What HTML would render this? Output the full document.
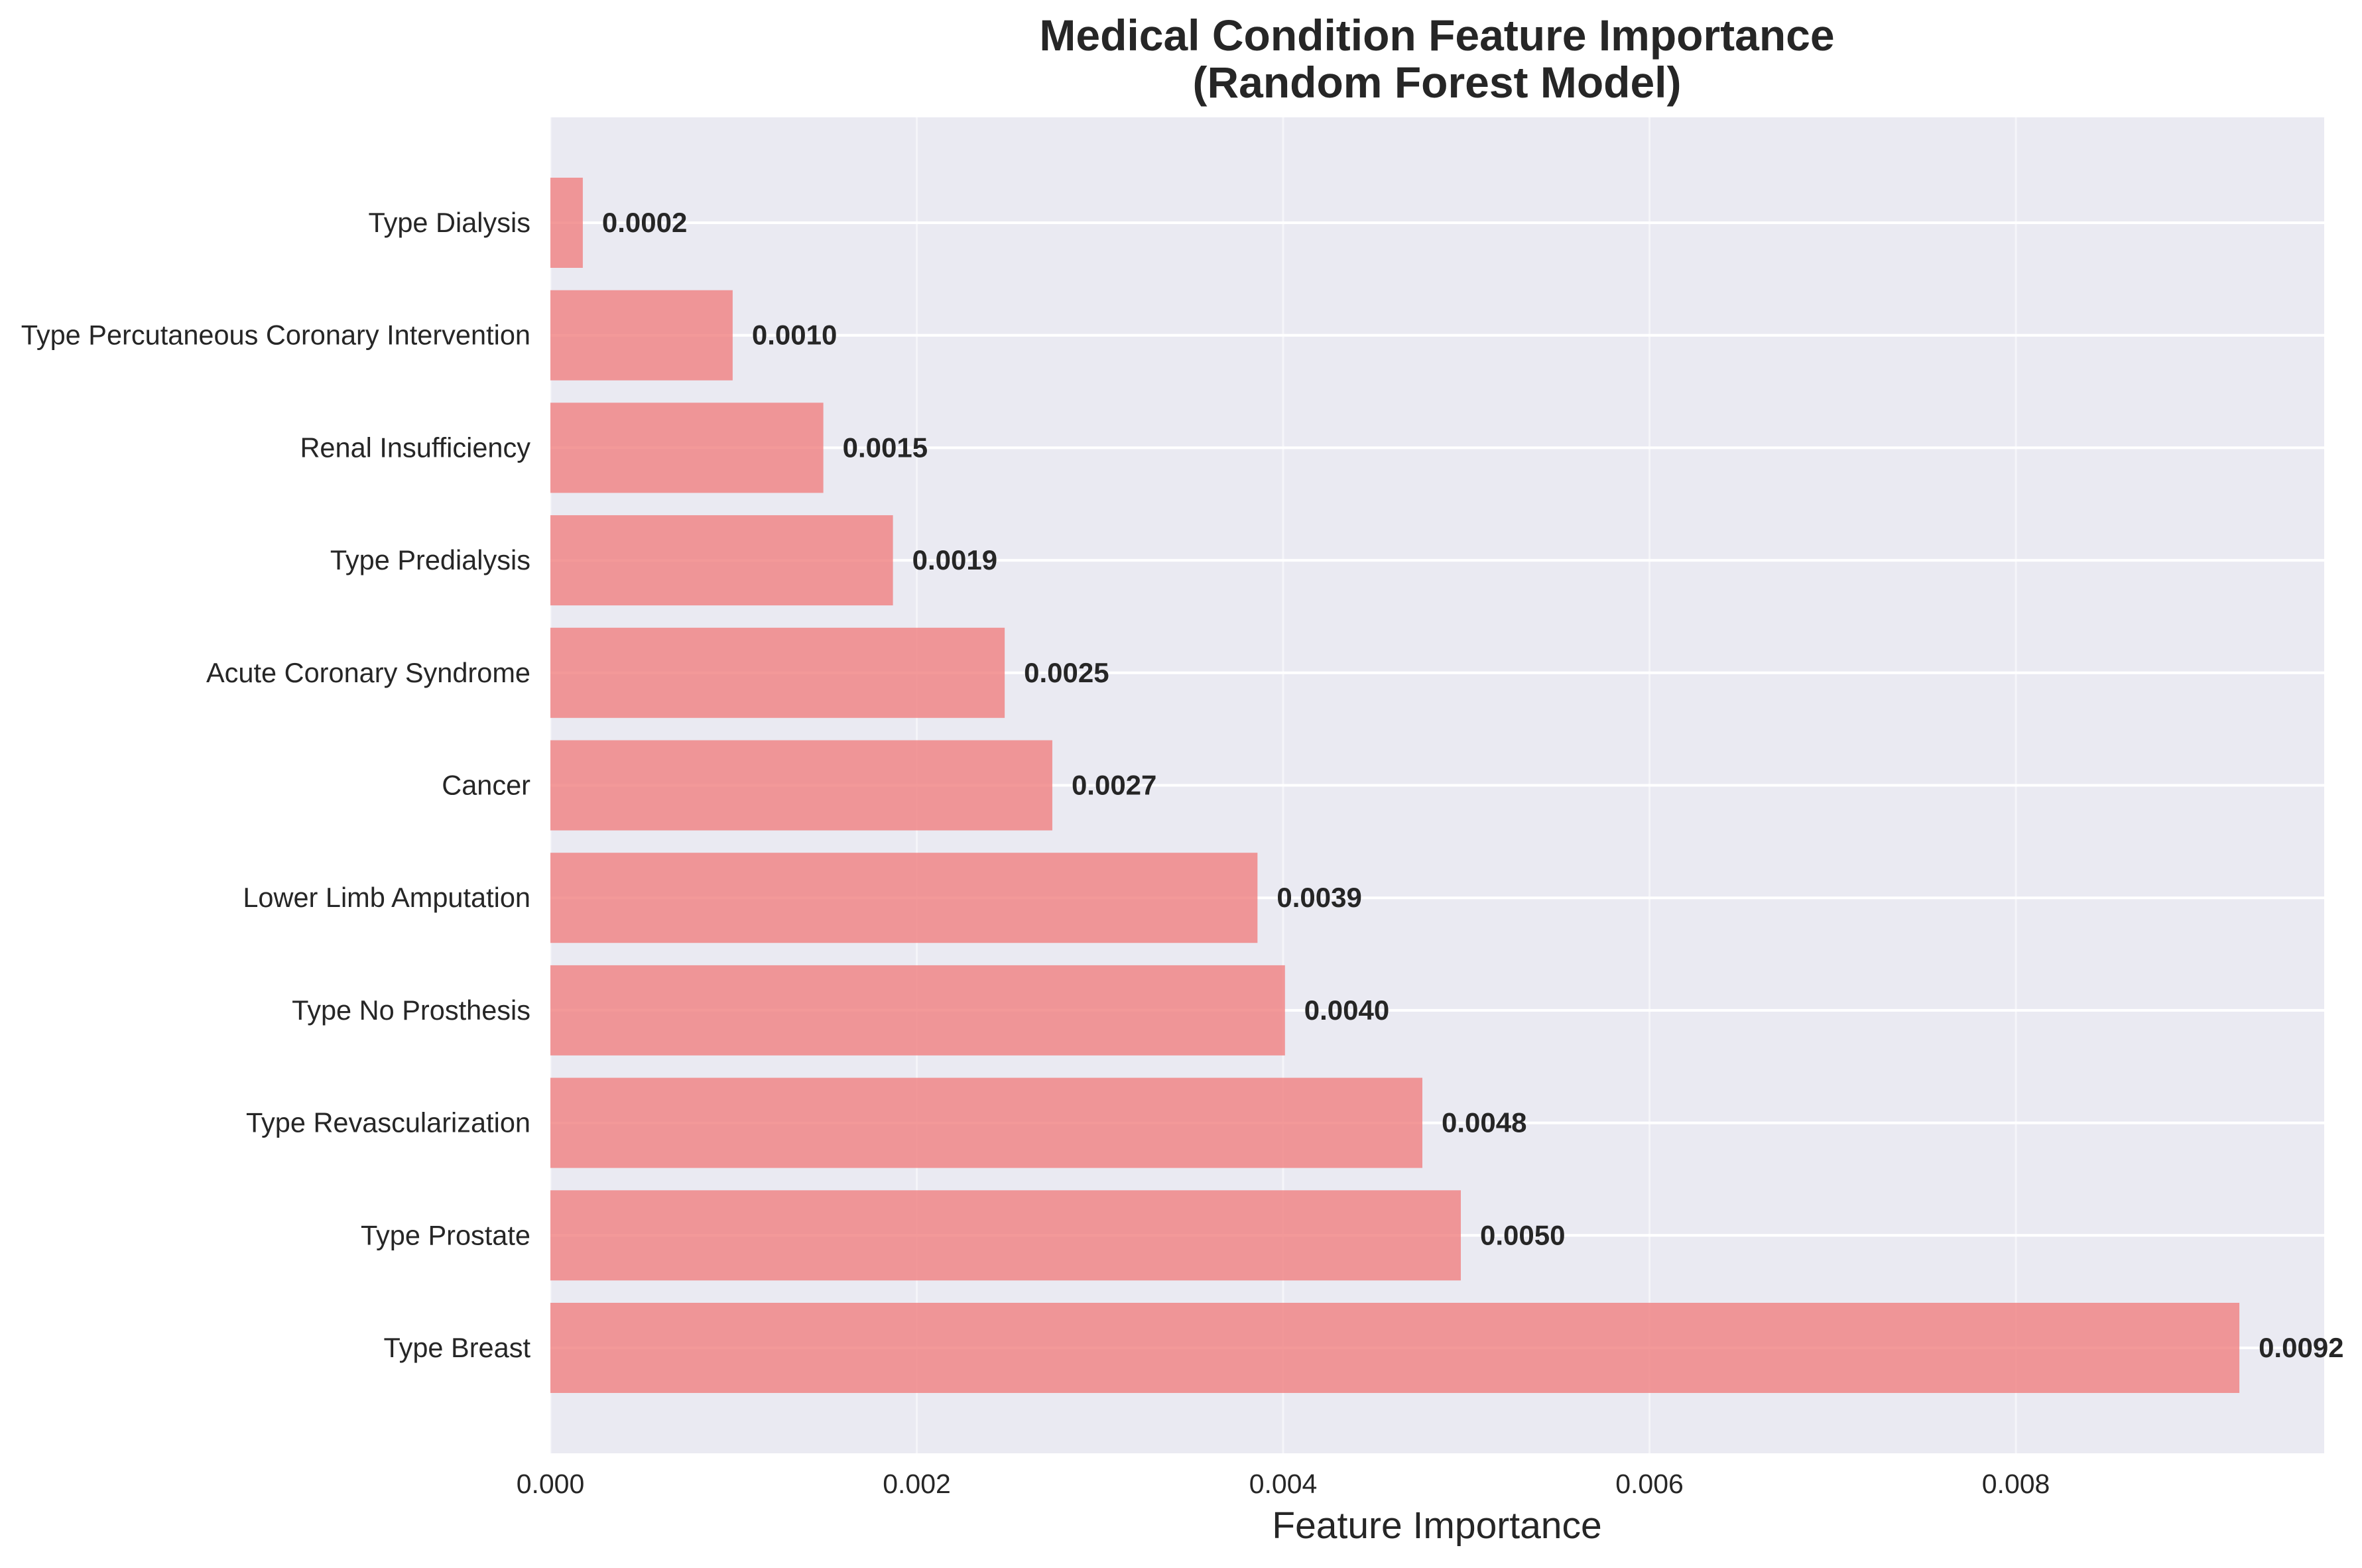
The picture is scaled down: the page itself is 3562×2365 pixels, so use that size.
<!DOCTYPE html>
<html><head><meta charset="utf-8"><style>
body{margin:0;background:#fff}
svg text{font-family:"Liberation Sans",Arial,sans-serif;fill:#262626}
</style></head><body>
<svg id="chart" width="3562" height="2360" viewBox="0 0 3562 2360" xmlns="http://www.w3.org/2000/svg">
<rect x="0" y="0" width="3562" height="2360" fill="#fff"/>
<text x="2167" y="76" font-size="66" font-weight="bold" text-anchor="middle">Medical Condition Feature Importance</text>
<text x="2167" y="147" font-size="66" font-weight="bold" text-anchor="middle">(Random Forest Model)</text>
<rect x="830" y="177" width="2675" height="2015" fill="#eaeaf2"/>
<g id="grid"></g>
<g id="bars"></g>
<g id="labels"></g>
<g id="xticks"></g>
<text x="2167" y="2320" font-size="57" text-anchor="middle">Feature Importance</text>
</svg>
<script>
const categories = ["Type Dialysis","Type Percutaneous Coronary Intervention","Renal Insufficiency","Type Predialysis","Acute Coronary Syndrome","Cancer","Lower Limb Amputation","Type No Prosthesis","Type Revascularization","Type Prostate","Type Breast"];
const values = [0.000177,0.000995,0.00149,0.00187,0.00248,0.00274,0.00386,0.00401,0.00476,0.00497,0.00922];
const valueLabels = ["0.0002","0.0010","0.0015","0.0019","0.0025","0.0027","0.0039","0.0040","0.0048","0.0050","0.0092"];
const xTicks = [0,0.002,0.004,0.006,0.008];
const xTickLabels = ["0.000","0.002","0.004","0.006","0.008"];

const NS="http://www.w3.org/2000/svg";
const L=830,R=3505,T=177,B=2192,XMAX=0.009683;
const x=v=>L+(v/XMAX)*(R-L);
const y0=336,step=169.7,bh=136;
const y=i=>y0+i*step;
function mk(tag,attrs,parent){const e=document.createElementNS(NS,tag);for(const k in attrs)e.setAttribute(k,attrs[k]);document.getElementById(parent).appendChild(e);return e;}
xTicks.forEach((t,i)=>{
  const g=mk('line',{x1:x(t),x2:x(t),y1:T,y2:B,stroke:'#fff','stroke-width':3,'stroke-opacity':0.5},'grid');
  
  
  const tl=mk('text',{x:x(t),y:2252,'font-size':41,'text-anchor':'middle'},'xticks');
  tl.textContent=xTickLabels[i];
  
  
});
categories.forEach((c,i)=>{
  const g=mk('line',{x1:L,x2:R,y1:y(i),y2:y(i),stroke:'#fff','stroke-width':4},'grid');
  
  
  const b=mk('rect',{x:L,y:y(i)-bh/2,width:x(values[i])-L,height:bh,fill:'#f08080','fill-opacity':0.8},'bars');
  
  
  const vl=mk('text',{x:x(values[i])+29,y:y(i)+14,'font-size':42,'font-weight':'bold'},'labels');
  vl.textContent=valueLabels[i];
  
  
  const cl=mk('text',{x:800,y:y(i)+14,'font-size':41.5,'text-anchor':'end'},'labels');
  cl.textContent=c;
  
  
});
</script>
</body></html>
